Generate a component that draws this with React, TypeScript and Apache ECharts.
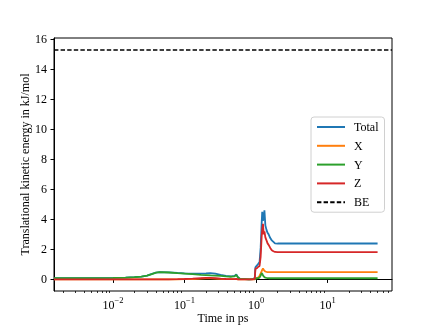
import React, { useEffect, useRef } from "react";
import * as echarts from "echarts";

const TIME = [0.0015, 0.004, 0.01, 0.015, 0.02, 0.025, 0.03, 0.035, 0.04, 0.045, 0.06, 0.08, 0.1, 0.13, 0.17, 0.2, 0.23, 0.27, 0.32, 0.38, 0.45, 0.5, 0.53, 0.56, 0.6, 0.7, 0.8, 0.9, 0.96, 0.98, 1.03, 1.08, 1.12, 1.16, 1.2, 1.22, 1.25, 1.28, 1.31, 1.35, 1.4, 1.45, 1.5, 1.58, 1.66, 1.75, 1.84, 2.0, 3, 5, 10, 20, 50];
const TOTAL = [0.09, 0.09, 0.1, 0.12, 0.15, 0.19, 0.26, 0.37, 0.46, 0.49, 0.47, 0.43, 0.4, 0.38, 0.38, 0.4, 0.42, 0.38, 0.3, 0.24, 0.21, 0.23, 0.34, 0.14, 0.03, 0.02, 0.01, 0.03, 0.1, 0.81, 0.93, 1.05, 1.15, 2.1, 3.8, 4.5, 3.9, 4.2, 4.6, 3.6, 3.3, 3.1, 3.0, 2.75, 2.6, 2.5, 2.4, 2.39, 2.39, 2.39, 2.39, 2.39, 2.39];
const X = [0.0, 0.0, 0.0, 0.0, 0.0, 0.0, 0.0, 0.0, 0.0, 0.0, 0.01, 0.01, 0.02, 0.03, 0.05, 0.07, 0.07, 0.06, 0.04, 0.02, 0.02, 0.02, 0.02, 0.01, 0.0, 0.0, 0.0, 0.0, 0.01, 0.05, 0.1, 0.15, 0.25, 0.4, 0.55, 0.65, 0.72, 0.65, 0.58, 0.53, 0.5, 0.49, 0.49, 0.49, 0.49, 0.49, 0.49, 0.49, 0.49, 0.49, 0.49, 0.49, 0.49];
const Y = [0.09, 0.09, 0.1, 0.12, 0.15, 0.19, 0.26, 0.36, 0.45, 0.48, 0.46, 0.42, 0.39, 0.35, 0.31, 0.29, 0.27, 0.26, 0.23, 0.2, 0.18, 0.2, 0.3, 0.12, 0.03, 0.02, 0.01, 0.02, 0.04, 0.06, 0.08, 0.09, 0.12, 0.25, 0.42, 0.38, 0.28, 0.2, 0.15, 0.12, 0.1, 0.09, 0.08, 0.08, 0.08, 0.08, 0.08, 0.08, 0.08, 0.08, 0.08, 0.08, 0.08];
const Z = [0.0, 0.0, 0.0, 0.0, 0.0, 0.0, 0.0, 0.01, 0.01, 0.01, 0.01, 0.02, 0.03, 0.05, 0.09, 0.11, 0.11, 0.09, 0.05, 0.03, 0.02, 0.02, 0.03, 0.01, 0.0, 0.0, 0.0, 0.01, 0.05, 0.7, 0.75, 0.85, 0.9, 1.5, 2.9, 3.3, 3.7, 3.0, 3.2, 2.8, 2.6, 2.4, 2.3, 2.1, 1.95, 1.88, 1.83, 1.82, 1.82, 1.82, 1.82, 1.82, 1.82];
const BE = 15.3;

const X_MAJOR_TICKS = [0.01, 0.1, 1, 10];
const X_MINOR_TICKS = [0.002, 0.003, 0.004, 0.005, 0.006, 0.007, 0.008, 0.009, 0.02, 0.03, 0.04, 0.05, 0.06, 0.07, 0.08, 0.09, 0.2, 0.3, 0.4, 0.5, 0.6, 0.7, 0.8, 0.9, 2, 3, 4, 5, 6, 7, 8, 9, 20, 30, 40, 50, 60, 70];
const Y_TICKS = [0, 2, 4, 6, 8, 10, 12, 14, 16];

const FONT = "'Liberation Serif', 'Times New Roman', serif";

export default function App() {
  const ref = useRef<HTMLDivElement>(null);
  useEffect(() => {
    if (!ref.current) return;
    const chart = echarts.init(ref.current, undefined, { renderer: "svg" });
    const mk = (vals: number[]) => TIME.map((t, i) => [t, vals[i]]);
    const lineSeries = (name: string, vals: number[], color: string) => ({
      name,
      type: "line",
      data: mk(vals),
      symbol: "none",
      showSymbol: false,
      xAxisIndex: 0,
      yAxisIndex: 0,
      lineStyle: { color, width: 1.8 },
      itemStyle: { color },
    });
    const xBase = {
      type: "log",
      logBase: 10,
      min: 0.0015,
      max: 79.5,
      position: "bottom",
      offset: 0,
      splitLine: { show: false },
    };
    chart.setOption({
      animation: false,
      grid: {
        left: 54,
        right: 44,
        top: 38,
        bottom: 36,
        show: true,
        borderColor: "#000",
        borderWidth: 1,
        containLabel: false,
        outerBoundsMode: "none",
      },
      xAxis: [
        {
          ...xBase,
          axisLine: { show: true, lineStyle: { color: "#000", width: 1 } },
          axisTick: { show: true, length: 3.5, inside: false, customValues: X_MAJOR_TICKS, lineStyle: { color: "#000", width: 1 } },
          axisLabel: {
            customValues: X_MAJOR_TICKS,
            margin: 4,
            formatter: (v: number) => {
              const e = Math.log10(v);
              const r = Math.round(e);
              if (Math.abs(e - r) > 1e-6) return "";
              return "{b|10}{s|" + (r < 0 ? "\u2212" + -r : String(r)) + "}";
            },
            rich: {
              b: { fontFamily: FONT, fontSize: 12, color: "#000", lineHeight: 16, verticalAlign: "bottom" },
              s: { fontFamily: FONT, fontSize: 8.5, color: "#000", lineHeight: 16, verticalAlign: "top" },
            },
          },
          name: "Time in ps",
          nameLocation: "middle",
          nameGap: 21,
          nameMoveOverlap: false,
          nameTextStyle: { fontFamily: FONT, fontSize: 12, color: "#000" },
        },
        {
          ...xBase,
          axisLine: { show: false },
          axisTick: { show: true, length: 2, inside: false, customValues: X_MINOR_TICKS, lineStyle: { color: "#000", width: 0.8 } },
          axisLabel: { show: false },
        },
      ],
      yAxis: {
        type: "value",
        min: -0.77,
        max: 16.07,
        splitLine: { show: false },
        axisLine: { show: true, lineStyle: { color: "#000", width: 1 } },
        axisTick: { show: true, length: 3.5, customValues: Y_TICKS, lineStyle: { color: "#000", width: 1 } },
        axisLabel: {
          customValues: Y_TICKS,
          margin: 7,
          fontFamily: FONT,
          fontSize: 12,
          color: "#000",
        },
        name: "Translational kinetic energy in kJ/mol",
        nameLocation: "middle",
        nameGap: 23,
        nameMoveOverlap: false,
        nameTextStyle: { fontFamily: FONT, fontSize: 12, color: "#000" },
      },
      legend: {
        orient: "vertical",
        left: 311,
        top: 117,
        padding: [4, 6, 4, 5],
        itemWidth: 28,
        itemHeight: 12,
        itemGap: 6.8,
        backgroundColor: "rgba(255,255,255,0.8)",
        borderColor: "#d0d0d0",
        borderWidth: 1,
        borderRadius: 3,
        itemStyle: { opacity: 0 },
        textStyle: { fontFamily: FONT, fontSize: 12, color: "#000", lineHeight: 12, padding: [0, 0, 0, 4] },
        data: ["Total", "X", "Y", "Z", "BE"],
      },
      series: [
        lineSeries("Total", TOTAL, "#1f77b4"),
        lineSeries("X", X, "#ff7f0e"),
        lineSeries("Y", Y, "#2ca02c"),
        lineSeries("Z", Z, "#d62728"),
        {
          name: "BE",
          type: "line",
          data: [],
          symbol: "none",
          lineStyle: { color: "#000", width: 1.5, type: [4.4, 2.2] },
          itemStyle: { color: "#000" },
          markLine: {
            silent: true,
            symbol: "none",
            label: { show: false },
            lineStyle: { color: "#000", width: 1.5, type: [4.4, 2.2] },
            data: [{ yAxis: BE }],
          },
        },
      ],
    });
    return () => chart.dispose();
  }, []);
  return <div ref={ref} style={{ position: "fixed", left: 0, top: 0, width: 436, height: 327 }} />;
}
